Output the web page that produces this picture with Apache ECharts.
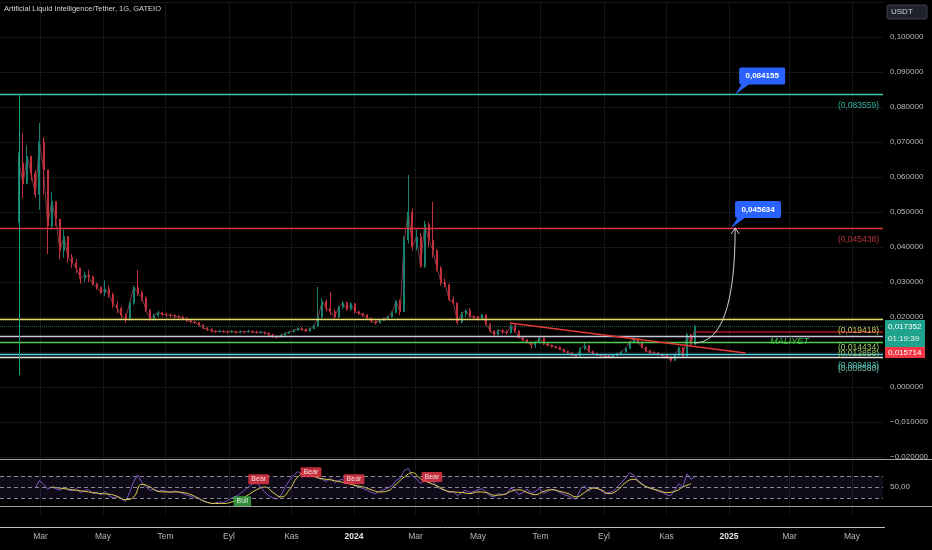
<!DOCTYPE html>
<html><head><meta charset="utf-8">
<script src="https://cdn.jsdelivr.net/npm/echarts@6/dist/echarts.min.js"></script>
<style>html,body{margin:0;padding:0;background:#000;}#c{width:932px;height:550px;}</style>
</head><body><div id="c"></div>
<script>
// ---------- DATA ----------
const candleStart = '2023-02-08';
const candleStepDays = 4;
const firstOpen = 0.049;
const closes = [0.064,0.058,0.066,0.061,0.055,0.070,0.062,0.046,0.053,0.048,
0.039,0.043,0.037,0.0355,0.034,0.031,0.032,0.0315,0.0295,0.0285,
0.027,0.028,0.0265,0.0235,0.0225,0.0205,0.0195,0.024,0.0285,0.027,
0.0255,0.022,0.0195,0.0205,0.0212,0.0208,0.0206,0.0205,0.0202,0.0200,
0.0197,0.0190,0.0186,0.0184,0.0178,0.0168,0.0165,0.0160,0.0158,0.0160,
0.0158,0.0157,0.0159,0.0156,0.0158,0.0157,0.0159,0.0157,0.0156,0.0157,
0.0154,0.0150,0.0145,0.0143,0.0148,0.0153,0.0157,0.0162,0.0167,0.0165,
0.0160,0.0166,0.0174,0.0200,0.0245,0.0225,0.0215,0.0200,0.0228,0.0240,
0.0222,0.0238,0.0215,0.0210,0.0206,0.0197,0.0188,0.0183,0.0190,0.0195,
0.0200,0.0213,0.0245,0.0215,0.0420,0.0500,0.0400,0.0429,0.0345,0.0465,
0.0420,0.0390,0.0340,0.0300,0.0292,0.0250,0.0240,0.0185,0.0210,0.0218,
0.0202,0.0200,0.0196,0.0206,0.0180,0.0160,0.0150,0.0162,0.0158,0.0155,
0.0176,0.0160,0.0142,0.0135,0.0128,0.0120,0.0128,0.0140,0.0125,0.0120,
0.0116,0.0114,0.0108,0.0102,0.0098,0.0092,0.0088,0.0110,0.0118,0.0102,
0.0096,0.0092,0.0090,0.0088,0.0087,0.0090,0.0095,0.0100,0.0110,0.0128,
0.0138,0.0128,0.0114,0.0104,0.0098,0.0097,0.0094,0.0090,0.0086,0.0076,
0.0090,0.0112,0.0088,0.0150,0.0122,0.01735];
const highs = [0.067,0.0726,0.069,0.066,0.062,0.0754,0.0714,0.062,0.0557,0.053,
0.048,0.0449,0.043,0.038,0.0365,0.034,0.033,0.0335,0.0318,0.0298,
0.0288,0.0305,0.029,0.027,0.0245,0.023,0.021,0.0245,0.029,0.0334,
0.0275,0.0258,0.0222,0.021,0.0218,0.0215,0.0212,0.021,0.0208,0.0206,
0.0203,0.0199,0.0192,0.0190,0.0186,0.0180,0.0172,0.0168,0.0163,0.0164,
0.0163,0.0162,0.0163,0.0161,0.0162,0.0161,0.0164,0.0162,0.0161,0.0161,
0.0158,0.0156,0.0152,0.0148,0.0152,0.0156,0.0160,0.0165,0.0170,0.0171,
0.0168,0.0170,0.0178,0.0286,0.0255,0.0250,0.0271,0.0222,0.0232,0.0246,
0.0245,0.0242,0.0240,0.0218,0.0212,0.0208,0.0198,0.0190,0.0194,0.0198,
0.0204,0.0216,0.0249,0.0250,0.0430,0.0606,0.0510,0.0450,0.0440,0.0475,
0.0470,0.0529,0.0395,0.0345,0.0310,0.0295,0.0258,0.0242,0.0215,0.0222,
0.0226,0.0205,0.0203,0.0210,0.0208,0.0182,0.0162,0.0165,0.0166,0.0162,
0.0180,0.0178,0.0162,0.0145,0.0138,0.0130,0.0132,0.0143,0.0142,0.0128,
0.0122,0.0118,0.0116,0.0110,0.0104,0.0100,0.0094,0.0114,0.0126,0.0120,
0.0104,0.0098,0.0094,0.0092,0.0091,0.0093,0.0098,0.0104,0.0114,0.0132,
0.0142,0.0140,0.0130,0.0116,0.0106,0.0102,0.0100,0.0096,0.0092,0.0088,
0.0094,0.0116,0.0114,0.0155,0.0152,0.0178];
const lows = [0.047,0.054,0.058,0.059,0.054,0.0506,0.055,0.038,0.045,0.046,
0.0365,0.037,0.0355,0.034,0.0325,0.0295,0.030,0.030,0.029,0.0278,
0.0265,0.026,0.0255,0.0225,0.021,0.0195,0.0183,0.019,0.0235,0.026,
0.0245,0.0215,0.0188,0.019,0.020,0.0202,0.0200,0.0198,0.0196,0.0194,
0.0192,0.0186,0.0182,0.0180,0.0172,0.0165,0.0160,0.0156,0.0154,0.0155,
0.0154,0.0153,0.0154,0.0152,0.0153,0.0153,0.0155,0.0153,0.0152,0.0152,
0.0150,0.0145,0.0140,0.0138,0.0142,0.0147,0.0152,0.0156,0.0160,0.0160,
0.0156,0.0157,0.0165,0.0172,0.0195,0.0215,0.0205,0.0195,0.0198,0.0222,
0.0218,0.0218,0.0210,0.0205,0.0200,0.0193,0.0184,0.0178,0.0182,0.0188,
0.0194,0.0198,0.0210,0.0205,0.0215,0.0410,0.0390,0.0390,0.0340,0.0340,
0.0400,0.0370,0.0330,0.0290,0.0285,0.0245,0.0235,0.0178,0.0182,0.0200,
0.0198,0.0195,0.0190,0.0192,0.0176,0.0155,0.0146,0.0148,0.0152,0.0150,
0.0152,0.0155,0.0138,0.0130,0.0124,0.0110,0.0112,0.0125,0.0120,0.0116,
0.0112,0.0110,0.0105,0.0098,0.0094,0.0089,0.0085,0.0088,0.0105,0.0098,
0.0092,0.0089,0.0087,0.0085,0.0084,0.0086,0.0088,0.0093,0.0098,0.0108,
0.0125,0.0124,0.0110,0.0100,0.0094,0.0093,0.0090,0.0086,0.0082,0.0071,
0.0074,0.0088,0.0085,0.0086,0.0118,0.0120];

const rsiStartIndex = 4;
const rsiValues = [48,62,55,46,50,47,44,50,45,43,47,40,44,45,38,40,36,42,34,30,
32,28,24,40,60,72,58,50,44,46,42,44,42,40,43,41,38,35,33,30,
28,24,22,20,21,23,22,26,30,33,38,44,50,56,58,50,40,34,30,28,
36,50,62,72,78,74,70,72,80,66,64,60,66,58,62,64,56,60,52,50,
47,44,40,38,42,45,48,52,62,66,80,84,70,65,56,64,58,60,50,46,
44,40,42,34,40,44,40,42,45,47,40,34,32,38,36,37,48,44,36,40,
46,38,42,48,38,42,46,44,40,36,34,30,28,46,52,42,50,48,44,38,
40,42,50,58,66,76,72,62,56,50,48,46,42,40,36,34,44,56,50,74,
64,70];
const maStartIndex = 8;
const maStepCandles = 2;
const maValues = [50,48,46,44,42,40,38,37,33,27,32,55,50,42,41,41,40,36,29,22,
20,20,23,28,36,45,50,40,32,45,68,76,69,65,63,60,57,53,50,45,
41,43,55,68,76,65,58,52,44,41,40,38,41,40,35,36,42,45,40,36,
42,45,42,38,32,40,48,45,38,44,58,64,55,48,44,40,42,50,56];

const levelValues = [0.083559,0.045438,0.019418,0.014434,0.012858,0.009483,0.008580];
const levelLabels = ['(0,083559)','(0,045438)','(0,019418)','(0,014434)','(0,012858)','(0,009483)','(0,008580)'];
const lastPrice = 0.017352;
const lastPriceText = '0,017352';
const countdownText = '01:19:39';
const redLevel = 0.015714;
const redLevelText = '0,015714';
const trendStart = ['2024-06-01', 0.01829];
const trendEnd = ['2025-01-17', 0.00971];
const vLine = ['2023-02-08', 0.0838, 0.0034];
const calloutDates = ['2025-01-07','2025-01-03'];
const calloutPrices = [0.083559, 0.045438];
const calloutTexts = ['0,084155','0,045634'];
const arrowFrom = ['2024-11-28', 0.01257];
const arrowTo = ['2025-01-07', 0.04543];
const noteText = 'MALİYET';
const notePos = ['2025-03-01', 0.0131];
const bearDates = ['2023-09-30','2023-11-20','2024-01-01','2024-03-17'];
const bearValues = [64,77,64,68];
const bullDates = ['2023-09-14'];
const bullValues = [24];
const tickDates = ['2023-03-01','2023-05-01','2023-07-01','2023-09-01','2023-11-01','2024-01-01','2024-03-01','2024-05-01','2024-07-01','2024-09-01','2024-11-01','2025-01-01','2025-03-01','2025-05-01'];
const tickLabels = ['Mar','May','Tem','Eyl','Kas','2024','Mar','May','Tem','Eyl','Kas','2025','Mar','May'];
const titleText = 'Artificial Liquid Intelligence/Tether, 1G, GATEIO';

// ---------- BUILD ----------
const DAY = 86400000;
function ts(s){const p=s.split('-').map(Number);return Date.UTC(p[0],p[1]-1,p[2]);}
const t0 = ts(candleStart);
const tAt = i => t0 + i*candleStepDays*DAY;
const xMin = Date.UTC(2023,0,20,12), xMax = Date.UTC(2025,4,31,7);
const candleData = closes.map((c,i)=>[tAt(i), i===0?firstOpen:closes[i-1], c, lows[i], highs[i]]);
const closeLine = closes.map((c,i)=>[tAt(i), c]);
const rsiData = rsiValues.map((v,k)=>[tAt(rsiStartIndex+k), v]);
const maData = maValues.map((v,k)=>[tAt(maStartIndex+k*maStepCandles), v]);
const tickTs = tickDates.map(ts);
const FONT = 'Liberation Sans';
const fmtPrice = v => (v<0?'\u2212':'') + Math.abs(v).toFixed(6).replace('.',',');
const levelColors = ['#3cc7ad','#e0323e','#eadf6c','#c7c5da','#4fcf4f','#4dd0e1','#e8e8e8'];
const levelTextColors = ['#2fb39c','#b8343f','#cfc35c','#9fcf6a','#8fc060','#3fb8aa','#6fc0b4'];

const chart = echarts.init(document.getElementById('c'));
const gridLineColor = '#161616';
const tickLabelOf = v => {let k=-1,b=Infinity;tickTs.forEach((t,i)=>{const d=Math.abs(t-v);if(d<b){b=d;k=i;}});return b<DAY?tickLabels[k]:'';};
const tagLabel = (txt,bg)=>({show:true,position:'inside',formatter:txt,color:'#fff',fontSize:7,fontFamily:FONT,backgroundColor:bg,padding:[2,3,1,3],borderRadius:1});
chart.setOption({
  animation:false,
  backgroundColor:'#000000',
  textStyle:{fontFamily:FONT},
  grid:[{left:0,right:49,top:2,height:455},{left:0,right:49,top:459.5,height:55}],
  xAxis:[
    {type:'value',gridIndex:0,min:xMin,max:xMax,axisLine:{show:false},axisTick:{show:false,customValues:tickTs},
     axisLabel:{show:false,customValues:tickTs},splitLine:{show:true,lineStyle:{color:gridLineColor}}},
    {type:'value',gridIndex:1,min:xMin,max:xMax,axisLine:{show:false},axisTick:{show:false,customValues:tickTs},
     splitLine:{show:true,lineStyle:{color:gridLineColor}},
     axisLabel:{show:true,customValues:tickTs,margin:18,fontSize:8.5,color:'#b2b5be',fontFamily:FONT,
       formatter:v=>{const s=tickLabelOf(v);return /^\d{4}$/.test(s)?'{y|'+s+'}':s;},
       rich:{y:{fontWeight:'bold',color:'#e6e6e6',fontSize:8.5,fontFamily:FONT}}}}
  ],
  yAxis:[
    {type:'value',gridIndex:0,position:'right',min:-0.02,max:0.11,interval:0.01,
     axisLine:{show:false},axisTick:{show:false},splitLine:{show:true,lineStyle:{color:gridLineColor}},
     axisLabel:{margin:7,fontSize:8,color:'#b8b8b8',fontFamily:FONT,formatter:v=>v>0.1005?'':fmtPrice(v)}},
    {type:'value',gridIndex:1,position:'right',min:0,max:100,interval:50,
     axisLine:{show:false},axisTick:{show:false},splitLine:{show:false},
     axisLabel:{margin:7,fontSize:8,color:'#b8b8b8',fontFamily:FONT,formatter:v=>v===50?'50,00':''}}
  ],
  series:[
    {type:'line',xAxisIndex:0,yAxisIndex:0,data:closeLine,symbol:'none',z:1,lineStyle:{color:'#7d3a42',width:1}},
    {type:'candlestick',xAxisIndex:0,yAxisIndex:0,data:candleData,encode:{x:0,y:[1,2,3,4]},barWidth:1.5,z:2,
     itemStyle:{color:'#17806e',color0:'#c2303c',borderColor:'#17806e',borderColor0:'#c2303c',borderWidth:1},
     markLine:{silent:true,symbol:['none','none'],animation:false,precision:6,
       data:[
         ...levelValues.map((v,i)=>({yAxis:v,lineStyle:{color:levelColors[i],width:1.3,type:'solid'},
            label:{show:true,formatter:levelLabels[i],position:'insideEndBottom',distance:[4,7],color:levelTextColors[i],fontSize:8.5,fontFamily:FONT}})),
         {yAxis:lastPrice,lineStyle:{color:'#1b5e52',width:1,type:'dotted'},label:{show:false}},
         [{coord:[tAt(closes.length-1),redLevel],lineStyle:{color:'#a61c24',width:1.5,type:'solid'},label:{show:false}},{coord:[xMax,redLevel]}],
         [{coord:[ts(vLine[0]),vLine[1]],lineStyle:{color:'#1f9e86',width:1,type:'solid'},label:{show:false}},{coord:[ts(vLine[0]),vLine[2]]}],
         [{coord:[ts(trendStart[0]),trendStart[1]],lineStyle:{color:'#e53935',width:1.5,type:'solid'},label:{show:false}},{coord:[ts(trendEnd[0]),trendEnd[1]]}]
       ]}},
    {type:'line',xAxisIndex:1,yAxisIndex:1,data:rsiData,symbol:'none',lineStyle:{color:'#7e57c2',width:1},
     markArea:{silent:true,itemStyle:{color:'rgba(126,87,194,0.13)'},data:[[{yAxis:30},{yAxis:70}]]},
     markLine:{silent:true,symbol:['none','none'],label:{show:false},lineStyle:{color:'#8a8d98',type:[4,3],width:1},
       data:[{yAxis:70},{yAxis:50},{yAxis:30}]}},
    {type:'line',xAxisIndex:1,yAxisIndex:1,data:maData,symbol:'none',smooth:true,lineStyle:{color:'#e2d24a',width:1}},
    {type:'scatter',xAxisIndex:1,yAxisIndex:1,z:10,data:bearDates.map((d,i)=>[ts(d),bearValues[i]]),symbolSize:1,
     itemStyle:{color:'rgba(0,0,0,0)'},label:tagLabel('Bear','#ef3a48')},
    {type:'scatter',xAxisIndex:1,yAxisIndex:1,z:10,data:bullDates.map((d,i)=>[ts(d),bullValues[i]]),symbolSize:1,
     itemStyle:{color:'rgba(0,0,0,0)'},label:tagLabel('Bull','#3fae49')}
  ]
});

// ---------- ANNOTATIONS ----------
const px = (d,p)=>chart.convertToPixel({gridIndex:0},[ts(d),p]);
const g = [];
g.push({type:'text',left:4,top:5,z:100,style:{text:titleText,fill:'#d1d4dc',fontSize:7.5,fontFamily:'Liberation Sans Narrow, '+FONT}});
g.push({type:'rect',z:100,shape:{x:887,y:5,width:40,height:14,r:2},style:{fill:'#1e222d',stroke:'#3a3e49',lineWidth:1}});
g.push({type:'text',z:101,x:891,y:12,style:{text:'USDT',fill:'#d1d4dc',fontSize:8,fontFamily:FONT,verticalAlign:'middle'}});
[[459,932,'#a0a0a0'],[506,932,'#a0a0a0'],[527,885,'#c0c0c0']].forEach(l=>{
  g.push({type:'line',z:50,shape:{x1:0,y1:l[0]+0.5,x2:l[1],y2:l[0]+0.5},style:{stroke:l[2],lineWidth:1}});
});
g.push({type:'rect',z:100,shape:{x:885,y:320,width:40,height:27},style:{fill:'#1fa38c'}});
g.push({type:'text',z:101,x:888,y:327,style:{text:lastPriceText,fill:'#fff',fontSize:8,fontFamily:FONT,verticalAlign:'middle'}});
g.push({type:'text',z:101,x:888,y:339,style:{text:countdownText,fill:'#e8f5f2',fontSize:8,fontFamily:FONT,verticalAlign:'middle'}});
g.push({type:'rect',z:100,shape:{x:885,y:347,width:40,height:11},style:{fill:'#f23645'}});
g.push({type:'text',z:101,x:888,y:352.5,style:{text:redLevelText,fill:'#fff',fontSize:8,fontFamily:FONT,verticalAlign:'middle'}});
calloutDates.forEach((d,i)=>{
  const a = px(d,calloutPrices[i]);
  const bx=a[0]+4, by=a[1]-27, bw=46, bh=17;
  g.push({type:'polygon',z:90,shape:{points:[[a[0],a[1]],[bx+3,by+bh-1],[bx+11,by+bh-1]]},style:{fill:'#2962ff'}});
  g.push({type:'rect',z:90,shape:{x:bx,y:by,width:bw,height:bh,r:2},style:{fill:'#2962ff'}});
  g.push({type:'text',z:91,x:bx+bw/2,y:by+bh/2,style:{text:calloutTexts[i],fill:'#fff',fontSize:8,fontWeight:'bold',fontFamily:FONT,align:'center',verticalAlign:'middle'}});
});
const p0 = px(arrowFrom[0],arrowFrom[1]), p2 = px(arrowTo[0],arrowTo[1]), p1 = px(arrowTo[0],arrowFrom[1]);
g.push({type:'bezierCurve',z:80,shape:{x1:p0[0],y1:p0[1],x2:p2[0],y2:p2[1],cpx1:p1[0],cpy1:p1[1]},style:{stroke:'#cfcfcf',lineWidth:1,fill:null}});
g.push({type:'polyline',z:80,shape:{points:[[p2[0]-4,p2[1]+6],[p2[0],p2[1]],[p2[0]+4,p2[1]+6]]},style:{stroke:'#cfcfcf',lineWidth:1,fill:null}});
const np = px(notePos[0],notePos[1]);
g.push({type:'text',z:80,x:np[0],y:np[1],style:{text:noteText,fill:'#43c443',fontSize:9,fontStyle:'italic',fontFamily:FONT,align:'center',verticalAlign:'middle'}});
chart.setOption({graphic:g});
</script></body></html>
